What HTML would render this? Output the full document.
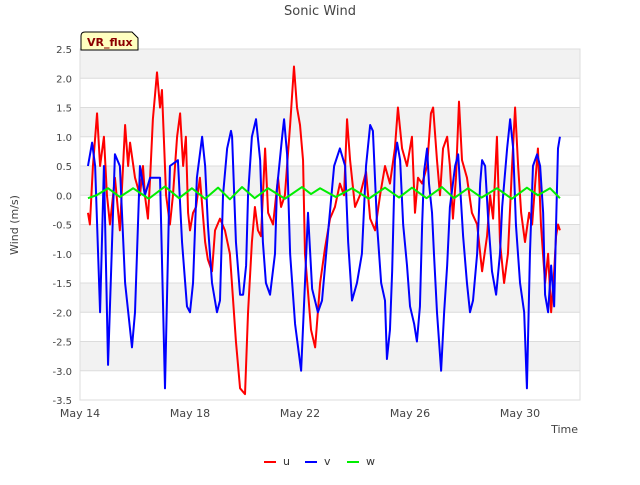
<!DOCTYPE html>
<html><head><meta charset="utf-8"><style>
body{margin:0;background:#fff;font-family:"Liberation Sans",sans-serif}
svg text{font-family:"DejaVu Sans","Liberation Sans",sans-serif}
</style></head><body>
<svg id="chart" width="640" height="480">
<text x="320" y="15" text-anchor="middle" font-size="13" fill="#444">Sonic Wind</text>
<g id="bands"></g><g id="grid"></g><g id="axes"></g>
<g id="series" clip-path="url(#clip)"></g>
<clipPath id="clip"><rect x="80" y="49" width="500" height="351"/></clipPath>
<g>
<path d="M81,50 L81,36 Q81,32 85,32 L132,32 L138,38 L138,50 Z" fill="#ffffc0" stroke="#000" stroke-width="1"/>
<text x="87" y="46" font-size="11" font-weight="bold" fill="#8b0000">VR_flux</text></g>
<text x="0" y="0" transform="translate(18,225) rotate(-90)" text-anchor="middle" font-size="11" fill="#444">Wind (m/s)</text>
<text x="578" y="433" text-anchor="end" font-size="11" fill="#444">Time</text>
<g id="legend"></g>
</svg>
<script>
const yTicks=[2.5,2.0,1.5,1.0,0.5,0.0,-0.5,-1.0,-1.5,-2.0,-2.5,-3.0,-3.5];
const xTickDays=[0,4,8,12,16];
const xTickLabels=["May 14","May 18","May 22","May 26","May 30"];
const tV=[.29,.44,.55,.73,.87,1.02,1.27,1.45,1.64,1.89,2.00,2.18,2.36,2.55,2.91,3.09,3.27,3.56,3.71,3.89,4.00,4.11,4.25,4.44,4.55,4.65,4.80,4.98,5.09,5.20,5.35,5.49,5.53,5.67,5.82,5.93,6.04,6.11,6.25,6.40,6.55,6.65,6.76,6.91,7.09,7.16,7.35,7.42,7.53,7.64,7.82,8.04,8.18,8.29,8.44,8.65,8.80,8.95,9.24,9.45,9.64,9.75,9.89,10.07,10.25,10.40,10.55,10.65,10.80,10.95,11.09,11.16,11.27,11.35,11.45,11.53,11.64,11.75,11.89,12.00,12.15,12.25,12.36,12.44,12.51,12.62,12.69,12.80,12.87,12.98,13.13,13.24,13.35,13.45,13.64,13.75,13.93,14.07,14.18,14.29,14.44,14.55,14.62,14.73,14.84,14.98,15.13,15.27,15.35,15.53,15.64,15.75,15.85,16.00,16.15,16.25,16.36,16.47,16.62,16.73,16.84,16.91,17.02,17.13,17.24,17.31,17.38,17.45];
const vVals=[0.5,0.9,0.5,-2.0,0.5,-2.9,0.7,0.5,-1.5,-2.6,-2.0,0.5,0.0,0.3,0.3,-3.3,0.5,0.6,-0.8,-1.9,-2.0,-1.5,0.3,1.0,0.5,-0.5,-1.5,-2.0,-1.8,0.0,0.8,1.1,1.0,-0.8,-1.7,-1.7,-1.2,0.0,1.0,1.3,0.6,-0.8,-1.5,-1.7,-1.0,0.1,1.0,1.3,0.7,-1.0,-2.2,-3.0,-1.5,-0.3,-1.6,-2.0,-1.8,-1.0,0.5,0.8,0.5,-0.8,-1.8,-1.5,-1.0,0.5,1.2,1.1,-0.5,-1.5,-1.8,-2.8,-2.3,-1.3,0.6,0.9,0.6,-0.5,-1.2,-1.9,-2.2,-2.5,-1.9,-0.5,0.4,0.8,0.2,-0.3,-1.0,-2.0,-3.0,-2.0,-1.2,-0.2,0.5,0.7,-0.7,-1.5,-2.0,-1.8,-1.0,0.2,0.6,0.5,-0.4,-1.3,-1.7,-1.0,-0.2,0.8,1.3,0.8,-0.5,-1.5,-2.0,-3.3,-1.0,0.5,0.7,0.5,-0.3,-1.7,-2.0,-1.2,-1.9,-0.5,0.8,1.0];
const tU=[.29,.36,.47,.62,.73,.87,.98,1.09,1.27,1.45,1.64,1.75,1.82,2.00,2.18,2.29,2.36,2.47,2.55,2.65,2.80,2.91,2.98,3.13,3.27,3.38,3.53,3.64,3.75,3.85,3.93,4.00,4.11,4.22,4.36,4.55,4.65,4.80,4.91,5.09,5.27,5.45,5.67,5.82,6.00,6.11,6.25,6.36,6.47,6.58,6.73,6.84,7.02,7.20,7.31,7.45,7.64,7.78,7.89,8.00,8.11,8.18,8.40,8.55,8.73,8.91,9.09,9.27,9.45,9.60,9.71,9.82,10.00,10.18,10.40,10.55,10.73,10.91,11.09,11.27,11.45,11.56,11.71,11.89,12.07,12.18,12.29,12.44,12.62,12.76,12.84,12.98,13.09,13.20,13.35,13.45,13.56,13.67,13.78,13.89,14.07,14.25,14.44,14.62,14.80,14.91,15.02,15.16,15.27,15.42,15.56,15.71,15.82,15.93,16.04,16.18,16.33,16.44,16.55,16.65,16.76,16.91,17.02,17.13,17.24,17.31,17.38,17.45];
const uVals=[-0.3,-0.5,0.5,1.4,0.5,1.0,0.0,-0.5,0.3,-0.6,1.2,0.5,0.9,0.3,0.0,0.5,0.0,-0.4,0.3,1.3,2.1,1.5,1.8,0.0,-0.5,0.0,1.0,1.4,0.5,1.0,-0.3,-0.6,-0.3,-0.2,0.3,-0.8,-1.1,-1.3,-0.6,-0.4,-0.6,-1.0,-2.5,-3.3,-3.4,-2.0,-0.8,-0.2,-0.6,-0.7,0.8,-0.3,-0.5,0.3,-0.2,0.0,1.2,2.2,1.5,1.2,0.6,-1.0,-2.3,-2.6,-1.5,-0.9,-0.4,-0.2,0.2,0.0,1.3,0.6,-0.2,0.0,0.4,-0.4,-0.6,0.0,0.5,0.2,0.8,1.5,0.8,0.5,1.0,-0.3,0.3,0.2,0.5,1.4,1.5,0.6,0.0,0.8,1.0,0.5,-0.4,0.3,1.6,0.6,0.3,-0.3,-0.5,-1.3,-0.7,0.0,-0.4,1.0,-0.8,-1.5,-1.0,0.5,1.5,0.5,-0.3,-0.8,-0.3,-0.5,0.2,0.8,-0.5,-1.5,-1.0,-2.0,-1.3,-0.7,-0.5,-0.6];
const tW=[.29,.6,1.02,1.45,1.93,2.5,3.09,3.6,4.07,4.55,5.02,5.45,5.89,6.35,6.84,7.45,8.07,8.4,8.73,9.3,9.89,10.5,11.09,11.6,12.07,12.6,13.16,13.6,14.11,14.6,15.16,15.7,16.25,16.65,17.09,17.45];
const wVals=[-0.05,0.0,0.12,-0.03,0.12,-0.06,0.15,-0.05,0.12,-0.06,0.13,-0.07,0.14,-0.05,0.12,-0.06,0.14,0.02,0.12,-0.03,0.12,-0.06,0.13,-0.04,0.13,-0.05,0.14,-0.05,0.12,-0.04,0.12,-0.06,0.13,0.0,0.12,-0.05];
const NS="http://www.w3.org/2000/svg";
const X0=80,X1=580,Y0=49,Y1=400,DAYS=18.18;
const xs=d=>X0+d*(X1-X0)/DAYS;
const ys=v=>Y0+(2.5-v)*(Y1-Y0)/6;
function mk(tag,attrs,parent){const e=document.createElementNS(NS,tag);for(const k in attrs)e.setAttribute(k,attrs[k]);document.getElementById(parent).appendChild(e);return e;}
for(let i=0;i<yTicks.length-1;i+=2){
 const b=mk('rect',{x:X0,y:ys(yTicks[i]),width:X1-X0,height:ys(yTicks[i+1])-ys(yTicks[i]),fill:'#f2f2f2'},'bands');
 
 
}
yTicks.forEach(v=>{
 const l=mk('line',{x1:X0,x2:X1,y1:ys(v),y2:ys(v),stroke:'#dcdcdc','stroke-width':1},'grid');
 
 
 const t=mk('text',{x:72,y:ys(v)+4,'text-anchor':'end','font-size':10,fill:'#444'},'axes');
 t.textContent=v.toFixed(1);
 
 
});
const fr=mk('rect',{x:X0,y:Y0,width:X1-X0,height:Y1-Y0,fill:'none',stroke:'#ddd'},'axes');


xTickDays.forEach((d,i)=>{
 const t=mk('text',{x:xs(d),y:417,'text-anchor':'middle','font-size':11,fill:'#444'},'axes');
 t.textContent=xTickLabels[i];
 
 
});
function line(ts,vs,col,name){
 const p=mk('polyline',{points:ts.map((t,i)=>xs(t)+','+ys(vs[i])).join(' '),fill:'none',stroke:col,'stroke-width':2,'stroke-linejoin':'round'},'series');
 
 
}
line(tU,uVals,'#ff0000','series-u');
line(tV,vVals,'#0000ff','series-v');
line(tW,wVals,'#00ee00','series-w');
const leg=[['u','#ff0000',264],['v','#0000ff',305],['w','#00ee00',347]];
leg.forEach(([n,c,x])=>{
 const l=mk('line',{x1:x,x2:x+12,y1:462,y2:462,stroke:c,'stroke-width':2},'legend');
 
 
 const t=mk('text',{x:x+19,y:465,'font-size':11,fill:'#333'},'legend');
 t.textContent=n;
 
 
});
</script>
</body></html>
